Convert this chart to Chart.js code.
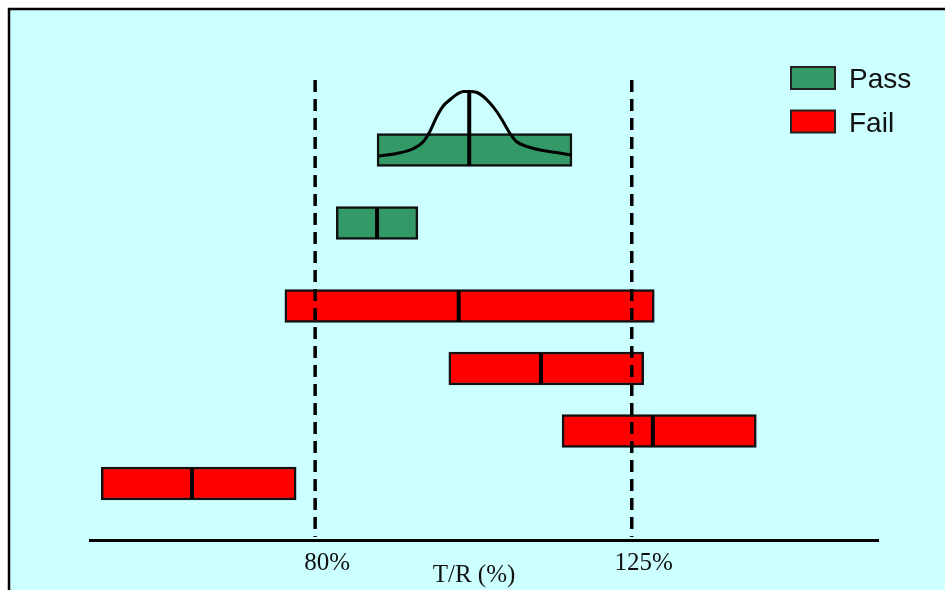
<!DOCTYPE html>
<html>
<head>
<meta charset="utf-8">
<script src="https://cdn.jsdelivr.net/npm/chart.js@4.4.1/dist/chart.umd.min.js"></script>
<style>
  body { margin: 0; background: #fff; }
  #wrap { width: 945px; height: 590px; }
</style>
</head>
<body>
<div id="wrap"><canvas id="trChart" width="945" height="590"></canvas></div>
<script>
// T/R confidence intervals (percent)
const outcome = ['Pass', 'Pass', 'Fail', 'Fail', 'Fail', 'Fail'];
const rowPos = [22, 36.6, 53.2, 65.7, 78.2, 88.7];
const lower = [88.8, 83.0, 75.7, 99.0, 115.1, 49.6];
const upper = [116.5, 94.6, 128.2, 126.7, 142.7, 77.3];
const estimate = [101.9, 88.8, 100.4, 112.1, 128.0, 62.5];

// acceptance limits and their tick labels
const limits = [80, 125];
const tickLabels = ['80%', '125%'];

// bell curve sketched over the first interval
const curveX = [89.0, 91.6, 94.0, 95.4, 96.3, 97.3, 98.2, 99.2, 100.1, 101.1, 102.0,
                103.0, 103.9, 104.9, 105.8, 106.7, 107.7, 108.6, 110.1, 112.0, 114.3, 116.5];
const curveY = [23.2, 22.7, 21.7, 20.3, 18.3, 15.3, 13.2, 11.9, 10.9, 10.3, 10.3,
                10.5, 11.3, 12.7, 14.3, 16.3, 18.7, 20.3, 21.3, 22.0, 22.5, 23.0];

const colors = { Pass: '#339966', Fail: '#ff0000' };

function barsFor(kind) {
    const out = [];
    outcome.forEach((o, i) => {
        if (o === kind) out.push({ x: [lower[i], upper[i]], y: rowPos[i], est: estimate[i], first: i === 0 });
    });
    return out;
}

// background + frame (top and left edges only, the rest is cut off)
const framePlugin = {
    id: 'frame',
    beforeDraw(chart) {
        const ctx = chart.ctx;
        ctx.save();
        ctx.fillStyle = '#ffffff';
        ctx.fillRect(0, 0, chart.width, chart.height);
        ctx.fillStyle = '#ccffff';
        ctx.fillRect(9, 9, chart.width - 9, chart.height - 9);
        ctx.strokeStyle = '#000';
        ctx.lineWidth = 2.5;
        ctx.beginPath();
        ctx.moveTo(9, chart.height);
        ctx.lineTo(9, 9);
        ctx.lineTo(chart.width, 9);
        ctx.stroke();
        ctx.restore();
    }
};

// point estimate marks, legend and axis title
const extrasPlugin = {
    id: 'extras',
    afterDatasetsDraw(chart) {
        const ctx = chart.ctx;
        const xs = chart.scales.x, ys = chart.scales.y;
        ctx.save();
        ctx.strokeStyle = '#000';
        ctx.lineWidth = 4;
        chart.data.datasets.forEach((ds, d) => {
            if (ds.type === 'line') return;
            const meta = chart.getDatasetMeta(d);
            meta.data.forEach((el, j) => {
                const item = ds.data[j];
                const px = xs.getPixelForValue(item.est);
                let top = el.y - el.height / 2 + 1;
                if (item.first) top = ys.getPixelForValue(Math.min(...curveY));
                ctx.beginPath();
                ctx.moveTo(px, top);
                ctx.lineTo(px, el.y + el.height / 2 - 1);
                ctx.stroke();
            });
        });

        // legend
        ctx.lineWidth = 2;
        ctx.font = '28px "Liberation Sans", Arial, sans-serif';
        ctx.textBaseline = 'alphabetic';
        ['Pass', 'Fail'].forEach((k, i) => {
            const y = 67 + i * 43.5;
            ctx.fillStyle = colors[k];
            ctx.fillRect(791, y, 44, 22);
            ctx.strokeStyle = '#222';
            ctx.strokeRect(791, y, 44, 22);
            ctx.fillStyle = '#111';
            ctx.fillText(k, 849, y + 21);
        });

        // axis title
        ctx.font = '25px "Liberation Serif", "Times New Roman", serif';
        ctx.textAlign = 'center';
        ctx.fillStyle = '#111';
        ctx.fillText('T/R (%)', 474, 582);
        ctx.restore();
    }
};

const datasets = [];
limits.forEach(v => {
    datasets.push({
        type: 'line',
        indexAxis: 'x',
        data: [{ x: v, y: 8 }, { x: v, y: 99.4 }],
        borderColor: '#000',
        borderWidth: 3.5,
        borderDash: [12, 7],
        pointRadius: 0,
        order: 0
    });
});
datasets.push({
    type: 'line',
    indexAxis: 'x',
    data: curveX.map((x, i) => ({ x: x, y: curveY[i] })),
    borderColor: '#000',
    borderWidth: 3,
    cubicInterpolationMode: 'monotone',
    pointRadius: 0,
    order: 1
});
['Pass', 'Fail'].forEach(k => {
    datasets.push({
        label: k,
        data: barsFor(k),
        backgroundColor: colors[k],
        borderColor: '#111',
        borderWidth: 2.5,
        borderSkipped: false,
        barThickness: 33,
        grouped: false,
        order: 2
    });
});

new Chart(document.getElementById('trChart'), {
    type: 'bar',
    data: { datasets: datasets },
    options: {
        responsive: false,
        animation: false,
        indexAxis: 'y',
        layout: { padding: { left: 90, right: 67, top: 40, bottom: 0 } },
        plugins: { legend: { display: false }, tooltip: { enabled: false } },
        scales: {
            x: {
                type: 'linear',
                min: 48,
                max: 160,
                offset: false,
                grid: { display: false, drawTicks: false },
                border: { display: true, color: '#000', width: 3 },
                afterFit: s => { s.height = 50; },
                afterBuildTicks: s => { s.ticks = limits.map(v => ({ value: v })); },
                ticks: {
                    autoSkip: false,
                    maxRotation: 0,
                    padding: 8,
                    labelOffset: 12,
                    color: '#111',
                    font: { family: '"Liberation Serif", "Times New Roman", serif', size: 25 },
                    callback: (v, i) => tickLabels[i]
                }
            },
            y: {
                type: 'linear',
                min: 0,
                max: 100,
                reverse: true,
                offset: false,
                display: false
            }
        }
    },
    plugins: [framePlugin, extrasPlugin]
});
</script>
</body>
</html>
